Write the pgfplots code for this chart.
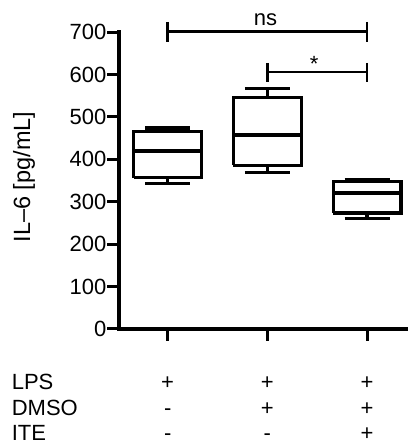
\documentclass[border=0pt]{standalone}
\usepackage{pgfplots}
\pgfplotsset{compat=1.18}
\usepackage{fontspec}
\setmainfont{Liberation Sans}
\newcommand\F{\fontsize{22}{24}\selectfont}
\pgfplotsset{bx/.style={black, line width=3.4pt, line join=miter, mark=none}}
\begin{document}
\begin{tikzpicture}
\useasboundingbox (0,0) rectangle (407pt,444pt);
\begin{axis}[
  at={(119pt,115pt)}, anchor=south west,
  scale only axis, width=288pt, height=297pt,
  xmin=0.512, xmax=3.4, ymin=0, ymax=700,
  axis x line*=bottom, axis y line*=left,
  axis line style={line width=4pt, line cap=rect},
  xtick={1,2,3}, xticklabels={},
  ytick={0,100,200,300,400,500,600,700},
  tick label style={font=\F},
  /pgf/number format/assume math mode=true,
  yticklabel style={inner xsep=0.5pt},
  tick align=outside, major tick length=12pt,
  every tick/.style={black, line width=3pt},
  clip=false,
]
% group 1
\addplot[bx] coordinates {(0.66,357) (1.34,357) (1.34,465) (0.66,465) (0.66,357)};
\addplot[bx] coordinates {(0.66,420) (1.34,420)};
\addplot[bx] coordinates {(1,465) (1,474)};
\addplot[bx] coordinates {(1,357) (1,343)};
\addplot[bx] coordinates {(0.775,474) (1.225,474)};
\addplot[bx] coordinates {(0.775,343) (1.225,343)};
% group 2
\addplot[bx] coordinates {(1.66,386) (2.34,386) (2.34,546) (1.66,546) (1.66,386)};
\addplot[bx] coordinates {(1.66,457) (2.34,457)};
\addplot[bx] coordinates {(2,546) (2,567)};
\addplot[bx] coordinates {(2,386) (2,369)};
\addplot[bx] coordinates {(1.775,567) (2.225,567)};
\addplot[bx] coordinates {(1.775,369) (2.225,369)};
% group 3
\addplot[bx] coordinates {(2.66,273) (3.34,273) (3.34,347) (2.66,347) (2.66,273)};
\addplot[bx] coordinates {(2.66,321) (3.34,321)};
\addplot[bx] coordinates {(3,347) (3,353)};
\addplot[bx] coordinates {(3,273) (3,261)};
\addplot[bx] coordinates {(2.775,353) (3.225,353)};
\addplot[bx] coordinates {(2.775,261) (3.225,261)};
% significance bars
\addplot[black, line width=2.5pt] coordinates {(1,724) (1,677)};
\addplot[black, line width=2.5pt] coordinates {(1,701) (3,701)};
\addplot[black, line width=2.5pt] coordinates {(3,724) (3,677)};
\addplot[black, line width=2.5pt] coordinates {(2,627) (2,582)};
\addplot[black, line width=2.5pt] coordinates {(2,606) (3,606)};
\addplot[black, line width=2.5pt] coordinates {(3,627) (3,582)};
\node[anchor=base] at (axis cs:1.98,716) {\F ns};
\node[anchor=base] at (axis cs:2.47,608) {\F *};
% y label
\node[rotate=90] at (axis cs:-0.44,358) {\fontsize{23.5}{25}\selectfont IL--6 [pg/mL]};
% treatment table
\node[anchor=base west, inner sep=0pt] at (axis cs:-0.565,-142) {\F LPS};
\node[anchor=base west, inner sep=0pt] at (axis cs:-0.565,-203) {\F DMSO};
\node[anchor=base west, inner sep=0pt] at (axis cs:-0.565,-263) {\F ITE};
\node[anchor=base] at (axis cs:1,-142) {\F +};
\node[anchor=base] at (axis cs:2,-142) {\F +};
\node[anchor=base] at (axis cs:3,-142) {\F +};
\node[anchor=base] at (axis cs:1,-203) {\F -};
\node[anchor=base] at (axis cs:2,-203) {\F +};
\node[anchor=base] at (axis cs:3,-203) {\F +};
\node[anchor=base] at (axis cs:1,-263) {\F -};
\node[anchor=base] at (axis cs:2,-263) {\F -};
\node[anchor=base] at (axis cs:3,-263) {\F +};
\end{axis}
\end{tikzpicture}
\end{document}
